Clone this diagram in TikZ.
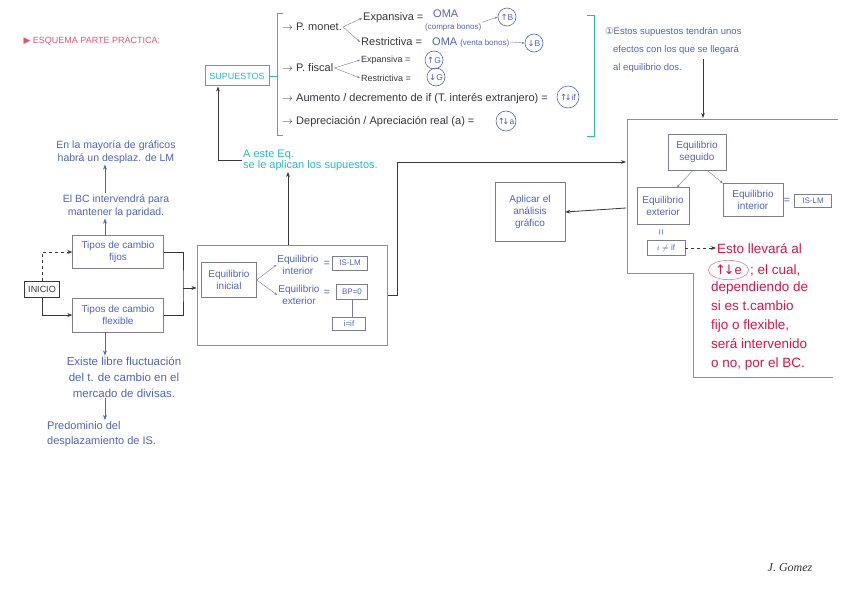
\documentclass[tikz,border=0pt]{standalone}
\usepackage{fontspec}
\setmainfont{Liberation Sans}
\newfontfamily\symfont{DejaVu Sans}
\newfontfamily\firmafont{Liberation Serif}
\usepackage{amsmath,amssymb}
\usepackage{xcolor}
\usetikzlibrary{arrows.meta, positioning, calc, shapes.geometric}
\definecolor{notablue}{RGB}{80,100,190}
\definecolor{cyanline}{RGB}{40,185,200}
\definecolor{inkgray}{RGB}{55,55,60}
\definecolor{boxgray}{RGB}{125,125,145}
\definecolor{rojo}{RGB}{220,20,65}
\definecolor{titlecol}{RGB}{225,85,115}
\definecolor{circpink}{RGB}{235,130,140}
\newcommand{\su}{{\symfont\char"2191}}
\newcommand{\ba}{{\symfont\char"2193}}
\newcommand{\suba}{{\symfont\char"2191\kern-2.5pt\char"2193}}
\tikzset{
  hb/.style={rectangle, draw=boxgray, thin, text=notablue, font=\fontsize{10}{12}\selectfont,
    align=center, inner sep=2pt},
  sb/.style={rectangle, draw=boxgray, thin, text=notablue, font=\footnotesize,
    minimum width=35pt, minimum height=14pt, inner sep=1pt},
  kb/.style={rectangle, draw=inkgray, thin, text=inkgray, font=\small,
    align=center, inner sep=2pt},
  cb/.style={rectangle, draw=cyanline, line width=1pt},
  nt/.style={font=\fontsize{10.5}{13}\selectfont, text=notablue, align=center, inner sep=1pt},
  itm/.style={anchor=west, font=\fontsize{11}{13}\selectfont, text=inkgray, inner sep=1pt},
  cir/.style={circle, draw=notablue, semithick, text=notablue, font=\fontsize{8.5}{9}\selectfont,
    minimum size=18pt, inner sep=0.5pt},
  rj/.style={font=\fontsize{13.5}{19}\selectfont, text=rojo, align=left, inner sep=1pt},
  arrow/.style={-{Stealth[length=5pt]}, thick, inkgray},
  fl/.style={-{Stealth[length=3pt]}, thin, boxgray}
}
\begin{document}
\begin{tikzpicture}[x=1pt, y=-1pt]
  \useasboundingbox[fill=white] (0,0) rectangle (848,599);
  % titulo
  \node[anchor=west, text=titlecol, font=\small] (titulo) at (20,40) {{\symfont ▶} ESQUEMA PARTE PRÁCTICA:};

  % supuestos
  \node[cb, text=cyanline, font=\small, minimum width=64, minimum height=20] (sup) at (237,76) {SUPUESTOS};
  \coordinate (brl) at (277,76);
  \draw[cyanline, thick] (283,13) -- (277,13) -- (277,135) -- (283,135);
  \draw[cyanline, thick] (587,15) -- (594,15) -- (594,136) -- (587,136);
  \draw[cyanline, thick] (sup.east) -- (brl);

  \node[itm] (pmon) at (281,27) {$\rightarrow$ P. monet.};
  \node[itm] (mexp) at (362,18) {Expansiva =};
  \node[itm, text=notablue] (oma1) at (432,14) {OMA};
  \node[itm, text=notablue, font=\footnotesize] (oma1b) at (424,27) {(compra bonos)};
  \node[cir] (cb1) at (507,17) {\su B};
  \node[itm] (mres) at (360,42) {Restrictiva =};
  \node[itm, text=notablue] (oma2) at (431,42) {OMA {\footnotesize (venta bonos)}};
  \node[cir] (cb2) at (534,43) {\ba B};
  \draw[fl] (pmon.east) -- (mexp.west);
  \draw[fl] (pmon.east) -- (mres.west);
  \draw[fl] (oma1b.north east) -- (cb1.west);
  \draw[fl] (oma2.east) -- (cb2.west);

  \node[itm] (pfis) at (281,68) {$\rightarrow$ P. fiscal};
  \node[itm, font=\small] (fexp) at (360,60) {Expansiva =};
  \node[cir] (cg1) at (434,60) {\su G};
  \node[itm, font=\small] (fres) at (360,78) {Restrictiva =};
  \node[cir] (cg2) at (436,77) {\ba G};
  \draw[fl] (pfis.east) -- (fexp.west);
  \draw[fl] (pfis.east) -- (fres.west);

  \node[itm] (aum) at (281,99) {$\rightarrow$ Aumento / decremento de if (T. interés extranjero) =};
  \node[cir, minimum size=22pt] (cif) at (568,97) {\suba if};
  \node[itm] (dep) at (281,122) {$\rightarrow$ Depreciación / Apreciación real (a) =};
  \node[cir, minimum size=20pt] (ca) at (506,121) {\suba a};

  % lado izquierdo
  \node[kb, minimum width=35, minimum height=16] (inicio) at (42,289) {INICIO};
  \node[hb, minimum width=91, minimum height=33] (fijos) at (118,252) {Tipos de cambio\\fijos};
  \node[hb, minimum width=91, minimum height=34] (flex) at (118,315) {Tipos de cambio\\flexible};
  \draw[arrow, thin, dashed] (inicio.north) |- (fijos.west);
  \draw[arrow, thin] (inicio.south) |- (flex.west);

  \coordinate (ax) at (105,0);
  \node[nt] (bc) at (116,206) {El BC intervendrá para\\mantener la paridad.};
  \node[nt] (graf) at (116,152) {En la mayoría de gráficos\\habrá un desplaz. de LM};
  \draw[arrow, notablue, thin] (fijos.north -| ax) -- (bc.south -| ax);
  \draw[arrow, notablue, thin] (bc.north -| ax) -- (graf.south -| ax);
  \node[nt, font=\fontsize{11.5}{16}\selectfont] (flu) at (124,377) {Existe libre fluctuación\\del t. de cambio en el\\mercado de divisas.};
  \node[nt, align=left, anchor=north west, font=\fontsize{11}{15}\selectfont] (pred) at (46,420) {Predominio del\\desplazamiento de IS.};
  \draw[arrow, notablue, thin] (flex.south -| ax) -- (flu.north -| ax);
  \draw[arrow, notablue, thin] (flu.south -| ax) -- (pred.north -| ax);

  % equilibrio inicial
  \node[cb, minimum width=190, minimum height=100] (mid) at (292,295) {};
  \coordinate (jn) at (183,288);
  \draw[inkgray, thin] (fijos.east) -| (jn) |- (flex.east);
  \draw[arrow, thin] (jn) -- (mid.west |- jn);
  \node[hb, minimum width=55, minimum height=35] (ini) at (229,280) {Equilibrio\\inicial};
  \node[nt, font=\fontsize{10}{12}\selectfont] (inte) at (298,265) {Equilibrio\\interior};
  \node[nt, font=\fontsize{10}{12}\selectfont] (exte) at (299,295) {Equilibrio\\exterior};
  \node[nt] (eq1) at (327,264) {=};
  \node[sb] (islm1) at (350,263) {IS-LM};
  \node[nt] (eq2) at (327,293) {=};
  \node[sb, minimum width=31, minimum height=15] (bp) at (352,292) {BP=0};
  \node[sb, minimum width=33, minimum height=13] (iif1) at (349,324) {i=if};
  \draw[fl] (ini.east) -- (inte.west);
  \draw[fl] (ini.east) -- (exte.west);
  \draw[boxgray, thin] (bp.south) -- (iif1.north -| bp.south);

  \node[nt, text=cyanline, align=left, anchor=west, font=\fontsize{11}{11}\selectfont] (aeq) at (242,160) {A este Eq.\\se le aplican los supuestos.};
  \coordinate (up) at (288,172);
  \draw[arrow] (mid.north -| up) -- (up);
  \draw[arrow] (aeq.west) -| ([xshift=-19pt]sup.south);

  % equilibrio dos
  \node[nt, align=left, anchor=north west, font=\fontsize{9.5}{18}\selectfont] (efec) at (604,26) {{\symfont ①}Estos supuestos tendrán unos\\\hspace{8pt}efectos con los que se llegará\\\hspace{8pt}al equilibrio dos.};
  \coordinate (rtop) at (703,118);
  \draw[arrow] ([yshift=14pt]efec.south -| rtop) -- (rtop);
  \draw[cyanline, line width=1pt] (838,120) -- (627,120) -- (627,273) -- (693,273) -- (693,377) -- (833,377);
  \coordinate (rin) at (626,162);
  \coordinate (rout) at (626,208);
  \draw[arrow] (mid.east) -- ++(10,0) |- (rin);

  \node[hb, minimum width=58, minimum height=36] (seg) at (697,152) {Equilibrio\\seguido};
  \node[hb, minimum width=52, minimum height=37] (exte2) at (663,206) {Equilibrio\\exterior};
  \node[hb, minimum width=60, minimum height=33] (inte2) at (753,200) {Equilibrio\\interior};
  \node[nt] (eq3) at (787,201) {=};
  \node[sb, minimum width=37, minimum height=13] (islm2) at (813,201) {IS-LM};
  \draw[fl] (seg.south -| 693,0) -- (exte2.north -| 677,0);
  \draw[fl] (seg.south -| 707,0) -- (inte2.north west);
  \node[nt] (par) at (662,232) {\rotatebox{90}{=}};
  \node[sb, minimum width=38, minimum height=15] (iif2) at (666,248) {$i \neq$ if};
  \node[hb, minimum width=70, minimum height=59] (apl) at (530,212) {Aplicar el\\análisis\\gráfico};
  \draw[arrow] (rout) -- (apl.east);

  \node[rj, anchor=west] (r1) at (716,249) {Esto llevará al};
  \node[ellipse, draw=circpink, semithick, text=rojo, font=\fontsize{13}{14}\selectfont, inner xsep=1pt, inner ysep=2pt, anchor=west] (rc) at (708,270) {\suba e};
  \node[rj, anchor=west] (r2) at (rc.east) {; el cual,};
  \node[rj, anchor=north west] (r3) at (710,281) {dependiendo de\\si es t.cambio\\fijo o flexible,\\será intervenido\\o no, por el BC.};
  \draw[arrow, thin, dashed] (iif2.east) -- (r1.west |- iif2.east);

  % firma
  \node[text=inkgray, font=\firmafont\itshape\large] (firma) at (790,568) {J. Gomez};
\end{tikzpicture}
\end{document}
